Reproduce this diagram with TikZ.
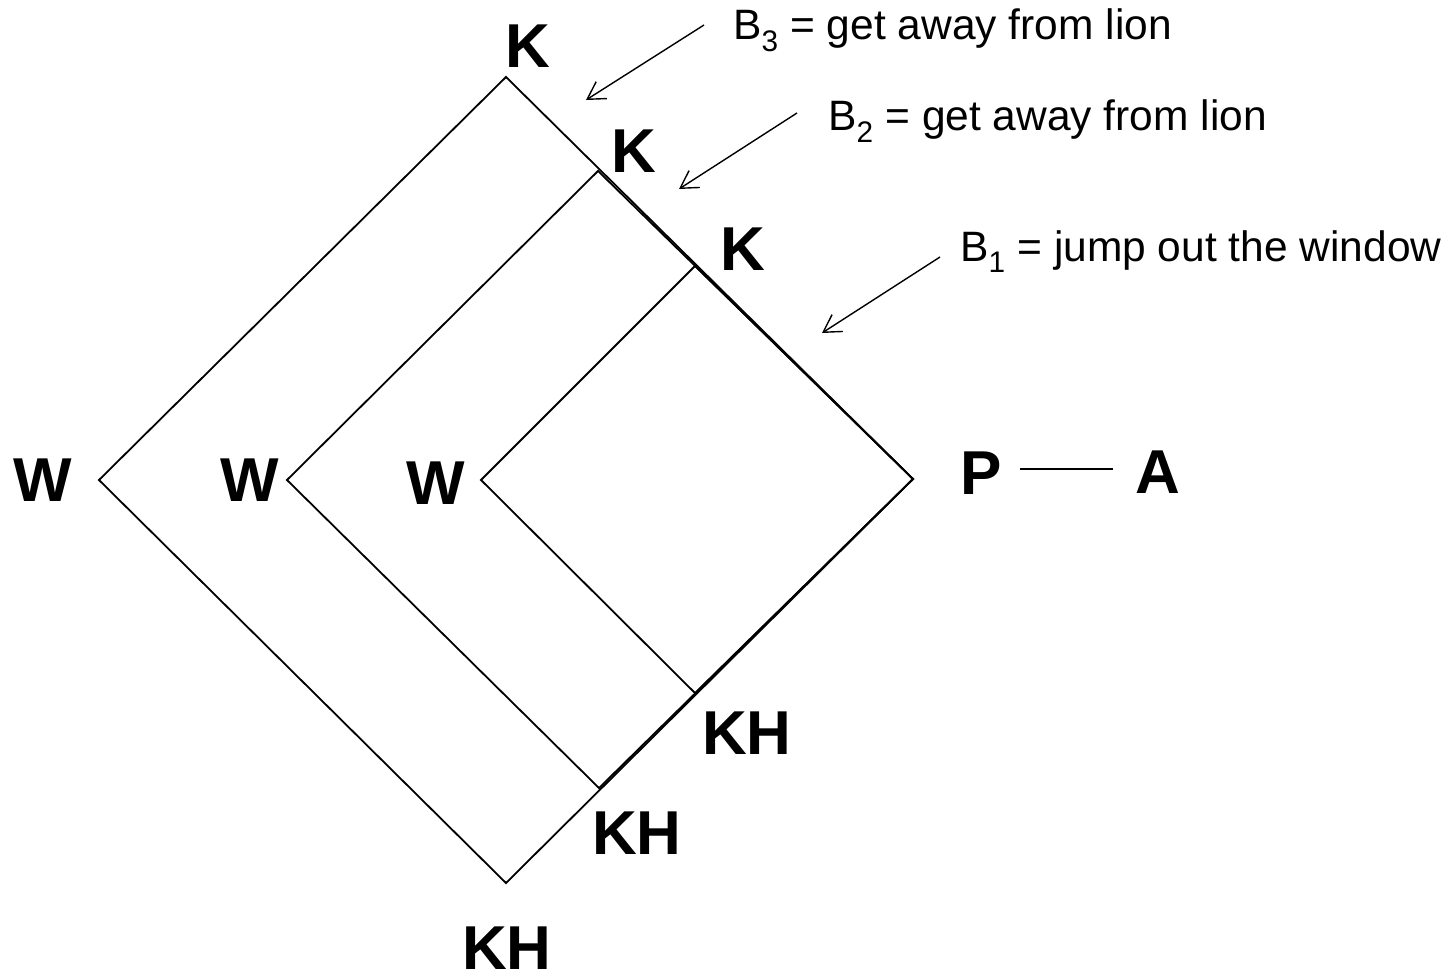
\documentclass[tikz,border=0pt]{standalone}
\usepackage{fontspec}
\setmainfont{Liberation Sans}
\usetikzlibrary{arrows.meta}
\begin{document}
\begin{tikzpicture}[x=1pt,y=-1pt,
  edge/.style={line width=1.8pt, line join=miter},
  big/.style={font=\fontsize{62}{62}\selectfont\bfseries, inner sep=0pt, anchor=center},
  lab/.style={font=\fontsize{42.5}{42.5}\selectfont, anchor=base west, inner sep=0pt},
  pointer/.style={line width=1.4pt, -{Straight Barb[length=17pt,width=20pt]}},
  link/.style={line width=1.4pt}]
\path[use as bounding box] (0,0) rectangle (1452,977);
% diamond vertices
\coordinate (R) at (913,479);
\coordinate (T1) at (506,77);
\coordinate (L1) at (99,480);
\coordinate (B1) at (506,883);
\coordinate (T2) at (598,171);
\coordinate (L2) at (287,480);
\coordinate (B2) at (599,788);
\coordinate (T3) at (695,266);
\coordinate (L3) at (481,480);
\coordinate (B3) at (695,693);
\draw[edge] (T1) -- (L1) -- (B1) -- (R) -- cycle;
\draw[edge] (T2) -- (L2) -- (B2) -- (R) -- cycle;
\draw[edge] (T3) -- (L3) -- (B3) -- (R) -- cycle;
% vertex labels
\node[big] (k1) at (528,46) {K};
\node[big] (k2) at (634,151) {K};
\node[big] (k3) at (743,249) {K};
\node[big] (w1) at (43,480) {W};
\node[big] (w2) at (250,480) {W};
\node[big] (w3) at (436,483) {W};
\node[big] (kh1) at (747,733) {KH};
\node[big] (kh2) at (637,833) {KH};
\node[big] (kh3) at (507,948) {KH};
\node[big] (p) at (981,473) {P};
\node[big] (a) at (1158,472) {A};
\path (p.east) ++(18,-4) coordinate (pa1) (a.west) ++(-22,-3) coordinate (pa2);
\draw[link] (pa1) -- (pa2);
% annotations
\node[lab] (lb3) at (733,39) {B\textsubscript{3} = get away from lion};
\node[lab] (lb2) at (828,130) {B\textsubscript{2} = get away from lion};
\node[lab] (lb1) at (960,261) {B\textsubscript{1} = jump out the window};
\coordinate (s3) at (704,25);
\coordinate (e3) at (586,100);
\coordinate (s2) at (797,113);
\coordinate (e2) at (679,189);
\coordinate (s1) at (940,257);
\coordinate (e1) at (822,333);
\draw[pointer] (s3) -- (e3);
\draw[pointer] (s2) -- (e2);
\draw[pointer] (s1) -- (e1);
\end{tikzpicture}
\end{document}
